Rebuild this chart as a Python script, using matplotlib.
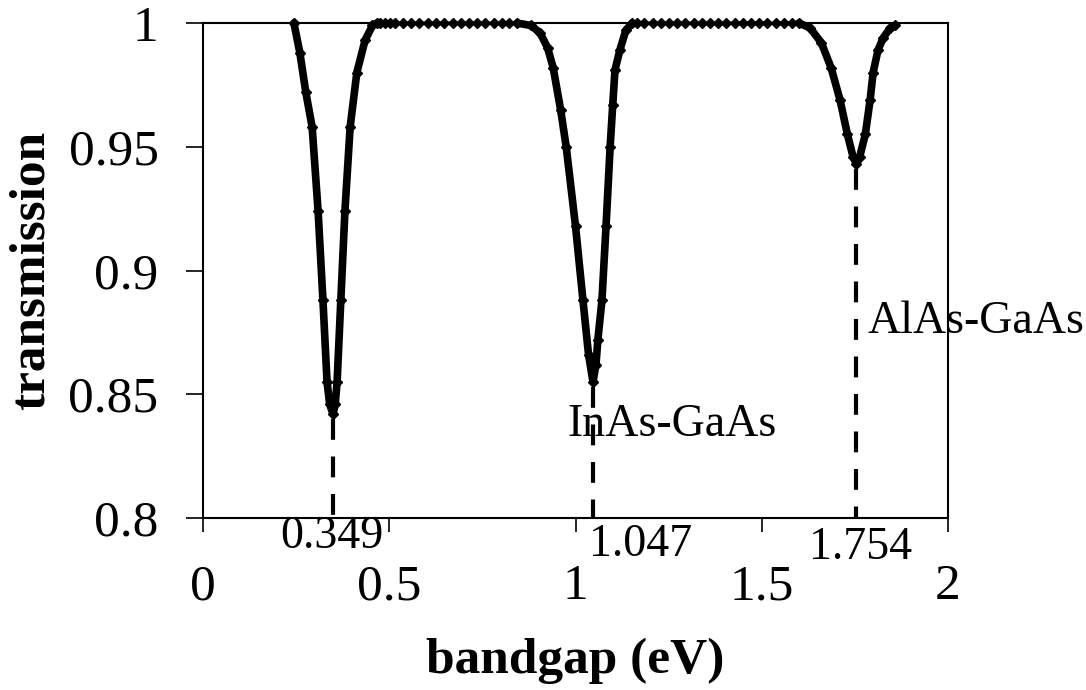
import numpy as np
import matplotlib.pyplot as plt

# dips (bandgap eV, transmission)
dip1_x = [0.244, 0.260, 0.276, 0.293, 0.309, 0.322, 0.333, 0.340, 0.349,
          0.355, 0.360, 0.370, 0.381, 0.395, 0.413, 0.435, 0.455, 0.467]
dip1_y = [1.000, 0.988, 0.972, 0.958, 0.924, 0.888, 0.855, 0.846, 0.842,
          0.846, 0.855, 0.888, 0.924, 0.958, 0.980, 0.993, 0.999, 1.000]

dip2_x = [0.843, 0.880, 0.905, 0.925, 0.940, 0.960, 0.975, 1.000, 1.020, 1.035, 1.047,
          1.055, 1.060, 1.071, 1.082, 1.093, 1.100, 1.106, 1.119, 1.135, 1.152]
dip2_y = [1.000, 0.999, 0.996, 0.990, 0.982, 0.965, 0.950, 0.918, 0.888, 0.866, 0.855,
          0.862, 0.872, 0.888, 0.918, 0.950, 0.967, 0.981, 0.989, 0.997, 1.000]

dip3_x = [1.600, 1.630, 1.660, 1.686, 1.710, 1.730, 1.745, 1.754,
          1.763, 1.778, 1.791, 1.799, 1.812, 1.826, 1.845, 1.858]
dip3_y = [1.000, 0.998, 0.992, 0.982, 0.969, 0.955, 0.946, 0.943,
          0.946, 0.955, 0.969, 0.980, 0.989, 0.994, 0.998, 0.999]

# flat parts between the dips (transmission = 1)
flat1_x = [0.475, 0.488, 0.502, 0.516, 0.537, 0.559, 0.581, 0.603, 0.625, 0.648,
           0.670, 0.692, 0.714, 0.736, 0.758, 0.780, 0.802, 0.822]
flat2_x = [1.165, 1.185, 1.207, 1.229, 1.251, 1.273, 1.295, 1.317, 1.339, 1.361,
           1.383, 1.405, 1.427, 1.449, 1.471, 1.493, 1.515, 1.537, 1.559, 1.581]

minima_x = [0.349, 1.047, 1.754]
minima_y = [0.842, 0.855, 0.943]
minima_labels = ["0.349", "1.047", "1.754"]

xticks = [0, 0.5, 1, 1.5, 2]
xtick_labels = ["0", "0.5", "1", "1.5", "2"]
yticks = [0.8, 0.85, 0.9, 0.95, 1]
ytick_labels = ["0.8", "0.85", "0.9", "0.95", "1"]

x = dip1_x + flat1_x + dip2_x + flat2_x + dip3_x
y = dip1_y + [1.0] * len(flat1_x) + dip2_y + [1.0] * len(flat2_x) + dip3_y

plt.rcParams["font.family"] = ["Liberation Serif", "DejaVu Serif"]

fig = plt.figure(figsize=(10.86, 6.9), dpi=100)
ax = fig.add_axes([203 / 1086, 1 - 518 / 690, 745 / 1086, 495 / 690])

ax.plot(x, y, color="black", lw=2, marker="D", ms=5.5, clip_on=False, zorder=3)
for dx, dy in [(dip1_x, dip1_y), (dip2_x, dip2_y), (dip3_x, dip3_y)]:
    ax.plot(dx, dy, color="black", lw=5.5, solid_capstyle="round",
            solid_joinstyle="round", clip_on=False, zorder=3)

for mx, my in zip(minima_x, minima_y):
    ax.plot([mx, mx], [my - 0.002, 0.8], color="black", lw=3, linestyle=(0, (5, 4)))

ax.text(0.346, 0.7923, minima_labels[0], fontsize=33, ha="center", va="center")
ax.text(1.176, 0.789, minima_labels[1], fontsize=33, ha="center", va="center")
ax.text(1.764, 0.788, minima_labels[2], fontsize=33, ha="center", va="center")
ax.text(0.977, 0.8376, "InAs-GaAs", fontsize=33, ha="left", va="center")
ax.text(1.785, 0.8792, "AlAs-GaAs", fontsize=33, ha="left", va="center")

ax.set_xlim(0, 2)
ax.set_ylim(0.8, 1)
ax.set_xticks(xticks)
ax.set_xticklabels(xtick_labels)
ax.set_yticks(yticks)
ax.set_yticklabels(ytick_labels)
ax.tick_params(axis="x", direction="out", length=10, width=1.2, pad=23, labelsize=37)
ax.tick_params(axis="y", direction="out", length=12, width=1.2, pad=20, labelsize=37)
for s in ax.spines.values():
    s.set_linewidth(1.5)

ax.set_xlabel("bandgap (eV)", fontsize=37, fontweight="bold", labelpad=20)
ax.set_ylabel("transmission", fontsize=37, fontweight="bold", labelpad=10)

fig.savefig("out.png", dpi=100)
